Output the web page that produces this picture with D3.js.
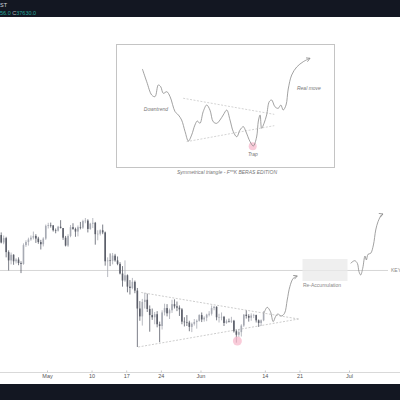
<!DOCTYPE html>
<html>
<head>
<meta charset="utf-8">
<script src="https://cdn.jsdelivr.net/npm/d3@7"></script>
<style>
  html, body { margin: 0; padding: 0; background: #ffffff; }
  svg { display: block; font-family: "Liberation Sans", "DejaVu Sans", sans-serif; }
</style>
</head>
<body>
<svg id="chart" width="400" height="400"></svg>
<script>
// 12h BTC candles, first bar opens 2021-04-21 12:00 UTC
const firstBar = "2021-04-21T12:00:00Z";
const opens = [
  55600, 53900, 54900, 51700, 49800, 51100, 49600, 50000, 49200, 49000,
  53300, 54000, 54600, 55000, 55400, 54800, 54000, 53500, 54800, 57700,
  57900, 57800, 56700, 56600, 57500, 57200, 55000, 53200, 55400, 57400,
  57000, 56400, 57400, 57300, 58800, 58900, 57000, 58200, 58400, 55800,
  55900, 56700, 56200, 49600, 49800, 49700, 50900, 49800, 49000, 46800,
  45200, 46400, 43800, 43500, 44900, 42900, 38800, 37000, 40300, 40800,
  38700, 37300, 36800, 37500, 35200, 34800, 37900, 38900, 37700, 38400,
  39800, 39300, 39000, 38600, 35800, 35700, 35600, 34600, 35300, 35700,
  36000, 37300, 36300, 36700, 37400, 37600, 38900, 39200, 36800, 36800,
  36900, 35500, 35900, 35800, 36000, 33600, 32800, 33400, 34900, 37400,
  37100, 36700, 37200, 37300, 36100, 35500, 36100
];
const highs = [
  56200, 55500, 55200, 52100, 51600, 51200, 50300, 50500, 49600, 53700,
  54400, 55000, 55500, 56400, 55800, 55200, 54500, 55100, 58000, 58400,
  58450, 57900, 57100, 57700, 59000, 57200, 55400, 55800, 57900, 58300,
  57300, 57800, 58600, 59100, 59500, 59200, 58400, 59500, 58600, 56700,
  56900, 58000, 56400, 50500, 51400, 51500, 51300, 50700, 49400, 48500,
  49800, 46600, 45300, 45800, 45200, 43500, 40500, 41000, 42400, 42200,
  39500, 38800, 38000, 38200, 35800, 38400, 39900, 39800, 38800, 40800,
  40900, 40400, 39500, 38900, 36800, 37300, 36000, 35600, 36400, 36300,
  37500, 37900, 37000, 37600, 38200, 39500, 39400, 39300, 37600, 37900,
  37100, 36300, 36500, 36900, 36200, 34000, 34100, 35200, 37500, 38400,
  37500, 37700, 37600, 37400, 36300, 36300, 38200
];
const lows = [
  53700, 53500, 50500, 47500, 48900, 48800, 49100, 48700, 46900, 48800,
  52900, 53200, 54300, 54600, 53800, 53600, 52300, 53000, 54500, 57100,
  57300, 56400, 56000, 56400, 57100, 54500, 53000, 52900, 55100, 56800,
  55200, 55300, 56900, 57000, 58300, 56200, 56800, 57200, 53400, 54400,
  55500, 55800, 48600, 46000, 48500, 48900, 49500, 48700, 46600, 43800,
  44900, 42500, 42000, 43200, 42300, 30000, 36000, 34900, 38800, 38000,
  33500, 36200, 35200, 34500, 31100, 34000, 37200, 37000, 36400, 37800,
  38800, 38200, 37100, 35200, 34700, 34800, 33600, 33400, 34900, 34200,
  35800, 35700, 35800, 35900, 37000, 37200, 38400, 36100, 35600, 36100,
  34800, 35300, 35600, 35500, 33300, 31000, 32300, 32400, 34600, 36500,
  35800, 36000, 36600, 35600, 34600, 34800, 35900
];
const closes = [
  53900, 54900, 51700, 49800, 51100, 49600, 50000, 49200, 49000, 53300,
  54000, 54600, 55000, 55400, 54800, 54000, 53500, 54800, 57700, 57900,
  57800, 56700, 56600, 57500, 57200, 55000, 53200, 55400, 57400, 57000,
  56400, 57400, 57300, 58800, 58900, 57000, 58200, 58400, 55800, 55900,
  56700, 56200, 49600, 49800, 49700, 50900, 49800, 49000, 46800, 45200,
  46400, 43800, 43500, 44900, 42900, 38800, 37000, 40300, 40800, 38700,
  37300, 36800, 37500, 35200, 34800, 37900, 38900, 37700, 38400, 39800,
  39300, 39000, 38600, 35800, 35700, 35600, 34600, 35300, 35700, 36000,
  37300, 36300, 36700, 37400, 37600, 38900, 39200, 36800, 36800, 36900,
  35500, 35900, 35800, 36000, 33600, 32800, 33400, 34900, 37400, 37100,
  36700, 37200, 37300, 36100, 35500, 36100, 37630
];

// Time-axis ticks and their labels
const tickDates = ["2021-05-01", "2021-05-10", "2021-05-17", "2021-05-24",
                   "2021-06-01", "2021-06-14", "2021-06-21", "2021-07-01"];
const tickLabels = ["May", "10", "17", "24", "Jun", "14", "21", "Jul"];

// Key level and drawings on the price chart: [date, price]
const keyLevel = 47500;
const triangleUpper = [["2021-05-20T00:45:00Z", 42460], ["2021-06-20T19:30:00Z", 36400]];
const triangleLower = [["2021-05-19T10:00:00Z", 30000], ["2021-06-20T19:30:00Z", 36400]];
const trapMark = ["2021-06-08T11:00:00Z", 31370];
const pathNear = [
  ["2021-06-13T19:00:00Z", 37630], ["2021-06-14T11:15:00Z", 39080],
  ["2021-06-15T03:20:00Z", 38070], ["2021-06-15T16:30:00Z", 35790],
  ["2021-06-16T03:40:00Z", 36930], ["2021-06-16T14:50:00Z", 37550],
  ["2021-06-17T07:25:00Z", 37090], ["2021-06-17T23:30:00Z", 37710],
  ["2021-06-18T12:30:00Z", 40750], ["2021-06-19T01:10:00Z", 43790],
  ["2021-06-19T17:45:00Z", 45710], ["2021-06-20T13:10:00Z", 46240]
];
const pathFar = [
  ["2021-07-01T08:10:00Z", 49140], ["2021-07-02T03:35:00Z", 49740],
  ["2021-07-02T16:30:00Z", 49140], ["2021-07-03T00:30:00Z", 47220],
  ["2021-07-03T08:40:00Z", 46470], ["2021-07-03T18:30:00Z", 48000],
  ["2021-07-04T05:30:00Z", 50810], ["2021-07-04T12:15:00Z", 49900],
  ["2021-07-04T20:10:00Z", 51200], ["2021-07-05T09:10:00Z", 51430],
  ["2021-07-05T22:20:00Z", 53330], ["2021-07-06T09:35:00Z", 56760],
  ["2021-07-06T20:40:00Z", 58650], ["2021-07-07T13:10:00Z", 60190],
  ["2021-07-07T20:50:00Z", 60420]
];
const reaccBox = { from: "2021-06-21T14:25:00Z", to: "2021-06-30T16:50:00Z", low: 45090, high: 50120 };

// Schematic inset, in its own 0–100 units (x right, level up)
const sketchLine = [
  [12.1, 79.7], [14.1, 69.3], [16.4, 58.5], [17.9, 57.2], [19.4, 66.7], [20.5, 65.3],
  [21.7, 59.9], [23.3, 61.2], [24.8, 57.2], [27.1, 45.0], [28.6, 42.3], [30.1, 38.2],
  [31.7, 28.7], [33.2, 21.1], [34.7, 26.0], [36.2, 34.1], [37.3, 37.4], [38.5, 35.5],
  [40.0, 45.0], [41.6, 50.4], [43.1, 46.3], [44.6, 36.8], [46.2, 35.5], [47.7, 38.2],
  [49.2, 42.3], [50.8, 46.3], [52.3, 38.2], [53.8, 28.7], [55.4, 24.6], [56.9, 30.1],
  [58.4, 32.8], [59.6, 28.7], [61.5, 20.6], [63.0, 17.1], [64.5, 24.4], [65.3, 37.4],
  [66.1, 42.3], [66.8, 31.5], [67.9, 35.5], [69.1, 42.3], [70.3, 53.1], [71.4, 54.5],
  [72.9, 49.0], [74.4, 47.7], [75.6, 50.4], [76.7, 46.3], [78.0, 50.4], [79.0, 63.4],
  [80.6, 74.8], [82.9, 81.3], [85.9, 85.6], [89.0, 88.4]
];
const sketchUpper = [[30.8, 55.9], [72.6, 42.8]];
const sketchLower = [[32.4, 20.6], [72.6, 33.6]];
const sketchTrap = [62.7, 16.8];
const sketchLabels = [
  { text: "Downtrend", u: 18.3, v: 45.6 },
  { text: "Real move", u: 88.5, v: 62.8 },
  { text: "Trap", u: 62.8, v: 9.2 }
];
const sketchCaption = "Symmetrical triangle - F**K BERAS EDITION";

// Header legend
const headerSymbol = "ST";
const headerValues = [["", "56.0 "], ["C", "37630.0"]];

// ---------------------------------------------------------------
const W = 400, H = 400;
const svg = d3.select("#chart");
const parse = d3.isoParse;

const x = d3.scaleUtc()
  .domain([parse("2021-05-01T00:00:00Z"), parse("2021-07-01T00:00:00Z")])
  .range([47, 349]);
const y = d3.scaleLinear().domain([30000, 59500]).range([347, 218]);

svg.append("rect").attr("width", W).attr("height", H).attr("fill", "#ffffff");

// defs: open arrow head
const defs = svg.append("defs");
defs.append("marker")
  .attr("id", "arrowHead")
  .attr("viewBox", "0 0 6 6")
  .attr("refX", 5).attr("refY", 3)
  .attr("markerWidth", 5).attr("markerHeight", 5)
  .attr("markerUnits", "userSpaceOnUse")
  .attr("orient", "auto")
  .append("path")
  .attr("d", "M0.5,0.5 L5,3 L0.5,5.5")
  .attr("fill", "none").attr("stroke", "#8a8a8a").attr("stroke-width", 0.9);

// Key level
svg.append("line")
  .attr("x1", 0).attr("x2", 388)
  .attr("y1", y(keyLevel)).attr("y2", y(keyLevel))
  .attr("stroke", "#d6d6d6").attr("stroke-width", 1);
svg.append("text")
  .attr("x", 391).attr("y", y(keyLevel) + 2)
  .attr("font-size", 5).attr("fill", "#888")
  .text("KEY");

// Re-accumulation zone
svg.append("rect")
  .attr("x", x(parse(reaccBox.from)))
  .attr("y", y(reaccBox.high))
  .attr("width", x(parse(reaccBox.to)) - x(parse(reaccBox.from)))
  .attr("height", y(reaccBox.low) - y(reaccBox.high))
  .attr("fill", "#e9e9e9").attr("fill-opacity", 0.75);
svg.append("text")
  .attr("x", (x(parse(reaccBox.from)) + x(parse(reaccBox.to))) / 2 - 3)
  .attr("y", y(reaccBox.low) + 6)
  .attr("text-anchor", "middle")
  .attr("font-size", 5).attr("fill", "#888")
  .text("Re-Accumulation");

// Candles
const start = parse(firstBar).getTime();
const halfDay = 12 * 3600 * 1000;
const bars = opens.map((o, i) => ({
  t: new Date(start + i * halfDay + halfDay / 2),
  o, h: highs[i], l: lows[i], c: closes[i]
}));
const upCol = "#a7aab3", downCol = "#5b5e69";
const bw = 1.6;
const g = svg.append("g");
g.selectAll("line.wick").data(bars).join("line")
  .attr("class", "wick")
  .attr("x1", d => x(d.t)).attr("x2", d => x(d.t))
  .attr("y1", d => y(d.h)).attr("y2", d => y(d.l))
  .attr("stroke", d => d.c >= d.o ? upCol : downCol)
  .attr("stroke-width", 0.8);
g.selectAll("rect.body").data(bars).join("rect")
  .attr("class", "body")
  .attr("x", d => x(d.t) - bw / 2)
  .attr("y", d => y(Math.max(d.o, d.c)))
  .attr("width", bw)
  .attr("height", d => Math.max(0.6, Math.abs(y(d.o) - y(d.c))))
  .attr("fill", d => d.c >= d.o ? upCol : downCol);

// Triangle
const ptLine = d3.line().x(d => x(parse(d[0]))).y(d => y(d[1]));
[triangleUpper, triangleLower].forEach(seg => {
  svg.append("path").attr("d", ptLine(seg))
    .attr("fill", "none").attr("stroke", "#b8b8b8")
    .attr("stroke-width", 0.7).attr("stroke-dasharray", "2,1.5");
});

// Trap marker
svg.append("circle")
  .attr("cx", x(parse(trapMark[0]))).attr("cy", y(trapMark[1]))
  .attr("r", 4.5)
  .attr("fill", "#f7b9cc").attr("fill-opacity", 0.75);

// Projected paths
const curvy = d3.line().x(d => x(parse(d[0]))).y(d => y(d[1]))
  .curve(d3.curveCatmullRom.alpha(0.5));
[pathNear, pathFar].forEach(p => {
  svg.append("path").attr("d", curvy(p))
    .attr("fill", "none").attr("stroke", "#8a8a8a")
    .attr("stroke-width", 0.8)
    .attr("marker-end", "url(#arrowHead)");
});

// ---------------- Inset schematic ----------------
const inset = { x0: 116, x1: 334, y0: 44, y1: 167 };
const sx = d3.scaleLinear().domain([0, 100]).range([inset.x0, inset.x1]);
const sy = d3.scaleLinear().domain([0, 100]).range([inset.y1, inset.y0]);
const ig = svg.append("g");
ig.append("rect")
  .attr("x", inset.x0 + 0.5).attr("y", inset.y0 + 0.5)
  .attr("width", inset.x1 - inset.x0).attr("height", inset.y1 - inset.y0)
  .attr("fill", "#ffffff").attr("stroke", "#c4c4c4").attr("stroke-width", 1);
const sLine = d3.line().x(d => sx(d[0])).y(d => sy(d[1]));
[sketchUpper, sketchLower].forEach(seg => {
  ig.append("path").attr("d", sLine(seg))
    .attr("fill", "none").attr("stroke", "#c2c2c2")
    .attr("stroke-width", 0.7).attr("stroke-dasharray", "2,1.5");
});
ig.append("circle")
  .attr("cx", sx(sketchTrap[0])).attr("cy", sy(sketchTrap[1]))
  .attr("r", 4).attr("fill", "#f7b9cc").attr("fill-opacity", 0.75);
ig.append("path")
  .attr("d", sLine.curve(d3.curveCatmullRom.alpha(0.5))(sketchLine))
  .attr("fill", "none").attr("stroke", "#8a8a8a").attr("stroke-width", 0.8)
  .attr("marker-end", "url(#arrowHead)");
ig.selectAll("text.lbl").data(sketchLabels).join("text")
  .attr("class", "lbl")
  .attr("x", d => sx(d.u)).attr("y", d => sy(d.v))
  .attr("text-anchor", "middle")
  .attr("font-size", 5).attr("font-style", "italic").attr("fill", "#777")
  .text(d => d.text);
svg.append("text")
  .attr("x", (inset.x0 + inset.x1) / 2 + 2).attr("y", inset.y1 + 7)
  .attr("text-anchor", "middle")
  .attr("font-size", 5).attr("font-style", "italic").attr("fill", "#777")
  .text(sketchCaption);

// ---------------- Time axis ----------------
const axisY = 372.5;
svg.append("line")
  .attr("x1", 0).attr("x2", W).attr("y1", axisY).attr("y2", axisY)
  .attr("stroke", "#d9d9d9").attr("stroke-width", 1);
const axis = d3.axisBottom(x)
  .tickValues(tickDates.map(d => parse(d + "T00:00:00Z")))
  .tickFormat((d, i) => tickLabels[i])
  .tickSize(2).tickPadding(2);
const ag = svg.append("g").attr("transform", `translate(0,${axisY - 2})`).call(axis);
ag.select(".domain").remove();
ag.selectAll(".tick line").attr("stroke", "#c8c8c8");
ag.selectAll(".tick text")
  .attr("font-size", 5.5).attr("fill", "#555")
  .attr("font-family", "Liberation Sans, sans-serif");

// ---------------- Dark panels ----------------
svg.append("rect").attr("x", 0).attr("y", 0).attr("width", W).attr("height", 17)
  .attr("fill", "#131722");
svg.append("rect").attr("x", 0).attr("y", 384).attr("width", W).attr("height", 16)
  .attr("fill", "#131722");
svg.append("text").attr("x", 0).attr("y", 7)
  .attr("font-size", 5.5).attr("fill", "#d1d4dc").text(headerSymbol);
const ht = svg.append("text").attr("x", 0).attr("y", 14.5).attr("font-size", 5.5);
headerValues.forEach(([k, v]) => {
  if (k) ht.append("tspan").attr("fill", "#b2b5be").text(k);
  ht.append("tspan").attr("fill", "#26a69a").text(v);
});
</script>
</body>
</html>
